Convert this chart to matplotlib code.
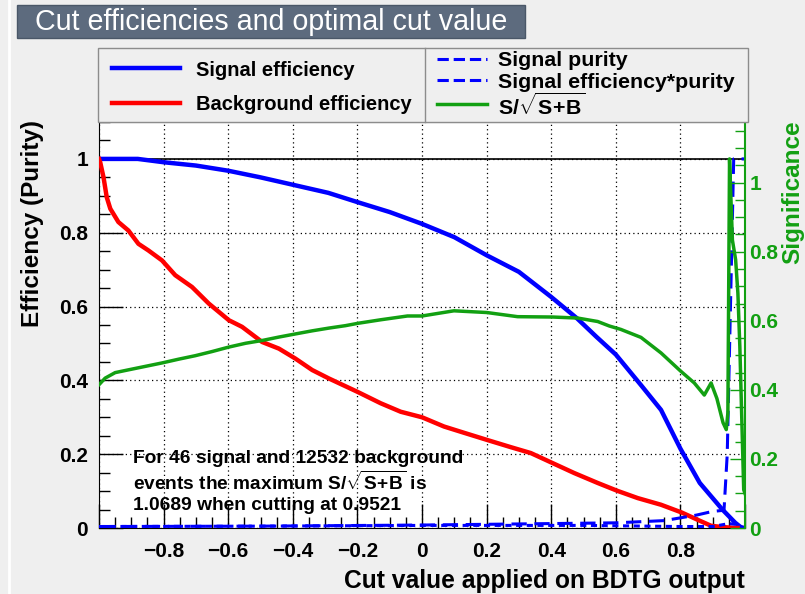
#!/usr/bin/env python

import numpy as np
import matplotlib
matplotlib.use("Agg")
import matplotlib.pyplot as plt
from matplotlib.ticker import MultipleLocator, FuncFormatter
from matplotlib.patches import Rectangle
from matplotlib.lines import Line2D

# ----------------------------------------------------------------------
# Cut efficiencies vs BDTG cut value (values read per bin)
# ----------------------------------------------------------------------

x_sig_eff = [-1.0, -0.88, -0.80, -0.70, -0.60, -0.50, -0.39, -0.29, -0.20, -0.10,
             0.0, 0.10, 0.20, 0.30, 0.40, 0.48, 0.54, 0.60, 0.68, 0.74,
             0.80, 0.86, 0.93, 0.97, 0.99, 1.0]
sig_eff = [1.0, 1.0, 0.991, 0.982, 0.968, 0.950, 0.928, 0.908, 0.883, 0.856,
           0.824, 0.788, 0.739, 0.694, 0.626, 0.568, 0.518, 0.470, 0.385, 0.320,
           0.215, 0.122, 0.050, 0.014, 0.0, 0.0]

x_bkg_eff = [-1.0, -0.996, -0.986, -0.976, -0.965, -0.94, -0.909, -0.878, -0.847, -0.805,
             -0.764, -0.712, -0.66, -0.598, -0.557, -0.495, -0.443, -0.392, -0.34, -0.288,
             -0.2, -0.128, -0.066, 0.0, 0.068, 0.13, 0.2, 0.275, 0.337, 0.404,
             0.471, 0.544, 0.604, 0.668, 0.74, 0.804, 0.854, 0.895, 0.926, 0.97, 1.0]
bkg_eff = [1.0, 0.99, 0.95, 0.896, 0.865, 0.829, 0.806, 0.770, 0.752, 0.725,
           0.685, 0.653, 0.608, 0.563, 0.545, 0.504, 0.486, 0.459, 0.428, 0.405,
           0.369, 0.338, 0.315, 0.300, 0.275, 0.258, 0.239, 0.219, 0.203, 0.176,
           0.149, 0.122, 0.101, 0.081, 0.063, 0.042, 0.022, 0.006, 0.003, 0.0, 0.0]

x_purity = [-1.0, -0.5, 0.0, 0.3, 0.6, 0.75, 0.85, 0.9, 0.935, 0.945, 0.955, 0.965, 1.0]
purity = [0.004, 0.005, 0.008, 0.011, 0.014, 0.020, 0.035, 0.045, 0.048, 0.2, 0.6, 1.0, 1.0]

x_effpur = [-1.0, -0.5, 0.0, 0.5, 0.8, 0.9, 0.95, 0.97, 1.0]
effpur = [0.004, 0.005, 0.007, 0.007, 0.004, 0.004, 0.012, 0.010, 0.0]

x_signif = [-1.0, -0.981, -0.95, -0.909, -0.857, -0.805, -0.753, -0.702, -0.65, -0.598,
            -0.546, -0.495, -0.443, -0.392, -0.34, -0.288, -0.237, -0.197, -0.128, -0.045,
            0.0, 0.099, 0.201, 0.296, 0.404, 0.482, 0.544, 0.58, 0.616, 0.678,
            0.74, 0.80, 0.843, 0.874, 0.895, 0.913, 0.932, 0.942, 0.947, 0.9521,
            0.961, 0.971, 0.978, 0.984, 0.989, 0.996, 1.0]
signif = [0.415, 0.434, 0.450, 0.458, 0.468, 0.478, 0.489, 0.499, 0.511, 0.524,
          0.535, 0.543, 0.553, 0.562, 0.571, 0.579, 0.586, 0.593, 0.603, 0.614,
          0.614, 0.629, 0.624, 0.612, 0.611, 0.608, 0.598, 0.585, 0.575, 0.552,
          0.507, 0.455, 0.420, 0.385, 0.420, 0.375, 0.305, 0.285, 0.333, 1.0689,
          0.834, 0.777, 0.680, 0.526, 0.352, 0.111, 0.100]

n_signal = 46
n_background = 12532
max_signif = 1.0689
best_cut = 0.9521

# ----------------------------------------------------------------------
# Style
# ----------------------------------------------------------------------

plt.rcParams['font.family'] = ['Liberation Sans', 'DejaVu Sans']
plt.rcParams['font.weight'] = 'bold'
plt.rcParams['mathtext.fontset'] = 'custom'
plt.rcParams['mathtext.rm'] = 'Liberation Sans:bold'
plt.rcParams['mathtext.bf'] = 'Liberation Sans:bold'
plt.rcParams['mathtext.it'] = 'Liberation Sans:bold'

W, H = 805, 594
bg = '#efefef'
green = '#12a012'
sqrt_sb = r'S/$\sqrt{\rm S\!+\!B}$'

fig = plt.figure(figsize=(W / 100, H / 100), dpi=100, facecolor=bg)


def fx(px):
    return px / W


def fy(py):
    return 1 - py / H


ax = fig.add_axes([fx(99), fy(528), fx(745) - fx(99), fy(122) - fy(528)])
ax.set_facecolor('white')
ax.set_xlim(-1, 1)
ax.set_ylim(0, 1.1)

ax.xaxis.set_major_locator(MultipleLocator(0.2))
ax.xaxis.set_minor_locator(MultipleLocator(0.05))
ax.yaxis.set_major_locator(MultipleLocator(0.2))
ax.yaxis.set_minor_locator(MultipleLocator(0.05))


def fmt(v, pos):
    if abs(v) < 1e-9:
        return '0'
    return ('%g' % round(v, 3)).replace('-', '\u2212')


def xfmt(v, pos):
    # no labels on the range edges
    if abs(abs(v) - 1) < 1e-6:
        return ''
    return fmt(v, pos)


ax.xaxis.set_major_formatter(FuncFormatter(xfmt))
ax.yaxis.set_major_formatter(FuncFormatter(fmt))
ax.tick_params(which='both', direction='in', top=False, right=False, labelsize=15)
ax.tick_params(which='major', length=17, width=1)
ax.tick_params(which='minor', length=8, width=1)
ax.tick_params(axis='x', pad=10)
ax.tick_params(axis='y', pad=8)

ax.grid(True, which='major', color='black', linestyle=(0, (1, 2.5)), linewidth=0.9)
for s in ['left', 'bottom']:
    ax.spines[s].set_color('black')
ax.spines['top'].set_color('#8c8c8c')
ax.spines['right'].set_visible(False)

ax.axhline(1.0, color='black', linewidth=1.2, zorder=3)

l_sig, = ax.plot(x_sig_eff, sig_eff, color='blue', linewidth=3.2, zorder=4)
l_bkg, = ax.plot(x_bkg_eff, bkg_eff, color='red', linewidth=3.2, zorder=4)
l_pur, = ax.plot(x_purity, purity, color='blue', linewidth=2.2, linestyle=(0, (5, 2.5)), zorder=4)
l_ep, = ax.plot(x_effpur, effpur, color='blue', linewidth=2.2, linestyle=(0, (2, 1.5)), zorder=4)

text_lines = ['For %d signal and %d background' % (n_signal, n_background),
              'events the maximum ' + sqrt_sb + ' is',
              '%.4f when cutting at %.4f' % (max_signif, best_cut)]
for i, line in enumerate(text_lines):
    ax.text(-0.894, 0.193 - i * 0.0635, line, fontsize=13.8, va='center_baseline',
            ha='left', zorder=5)

# significance on its own axis
ax2 = ax.twinx()
ax2.set_ylim(0, max_signif * 1.1)
l_sn, = ax2.plot(x_signif, signif, color=green, linewidth=2.5, zorder=5)
ax2.yaxis.set_major_locator(MultipleLocator(0.2))
ax2.yaxis.set_minor_locator(MultipleLocator(0.05))
ax2.yaxis.set_major_formatter(FuncFormatter(fmt))
ax2.tick_params(which='both', direction='in', colors=green, labelsize=15, pad=3)
ax2.tick_params(which='major', length=11, width=1)
ax2.tick_params(which='minor', length=7, width=1)
ax2.spines['right'].set_color(green)
ax2.spines['right'].set_linewidth(1.5)
for s in ['left', 'top', 'bottom']:
    ax2.spines[s].set_visible(False)

# axis titles
fig.text(fx(745), fy(581), 'Cut value applied on BDTG output', fontsize=17.7,
         ha='right', va='center')
fig.text(fx(32), fy(120), 'Efficiency (Purity)', fontsize=17.5, rotation=90,
         ha='center', va='top')
fig.text(fx(793), fy(120), 'Significance', fontsize=17.5, rotation=90,
         ha='center', va='top', color=green)

# legend box
fig.add_artist(Rectangle((fx(98), fy(122)), fx(748) - fx(98), fy(48) - fy(122),
                         transform=fig.transFigure, facecolor=bg, edgecolor='#8c8c8c',
                         linewidth=1))
fig.add_artist(Line2D([fx(425), fx(425)], [fy(122), fy(48)], transform=fig.transFigure,
                      color='#8c8c8c', linewidth=1))

entries = [(l_sig, 'Signal efficiency', 112, 180, 196, 68, 14.5),
           (l_bkg, 'Background efficiency', 112, 180, 196, 103, 14.5),
           (l_pur, 'Signal purity', 437, 487, 498, 59, 15.4),
           (l_ep, 'Signal efficiency*purity', 437, 487, 498, 80, 15.4),
           (l_sn, r'S/$\sqrt{\rm S\!+\!B}$', 437, 487, 498, 104, 15.4)]
for line, label, x0, x1, xt, yc, size in entries:
    fig.add_artist(Line2D([fx(x0), fx(x1)], [fy(yc), fy(yc)], transform=fig.transFigure,
                          color=line.get_color(), linewidth=line.get_linewidth(),
                          linestyle=line.get_linestyle()))
    fig.text(fx(xt), fy(yc), label, fontsize=size, ha='left', va='center_baseline')

# title box
fig.add_artist(Rectangle((fx(17), fy(38)), fx(525) - fx(17), fy(5) - fy(38),
                         transform=fig.transFigure, facecolor='#5d6b7e', edgecolor='#4a5768',
                         linewidth=1))
fig.text(fx(271), fy(21.5), 'Cut efficiencies and optimal cut value', fontsize=20.6,
         fontweight='normal', color='white', ha='center', va='center')

fig.add_artist(Line2D([fx(9), fx(9)], [0, 1], transform=fig.transFigure,
                      color='white', linewidth=2))

plotfile = 'out.png'
print('writing : ', plotfile)
fig.savefig(plotfile, dpi=100, facecolor=bg)
plt.close()
